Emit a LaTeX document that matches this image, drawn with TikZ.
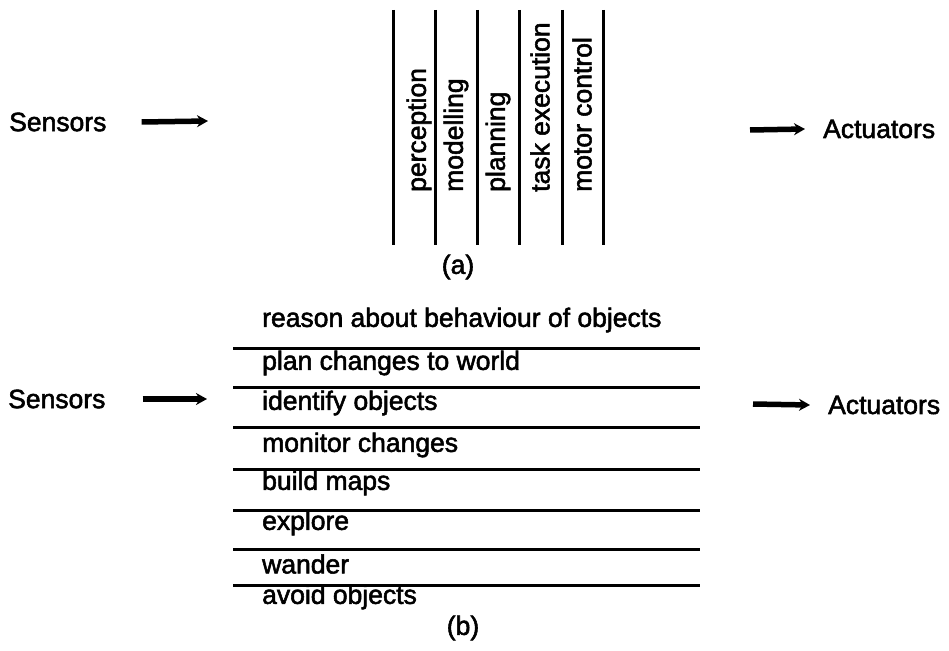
\documentclass[tikz,border=0pt]{standalone}
\usepackage{fontspec}
\setmainfont{Liberation Sans}[BoldFont=Liberation Sans,BoldFeatures={FakeBold=2}]
\usetikzlibrary{arrows.meta}

\begin{document}
\begin{tikzpicture}[x=1pt,y=-1pt,
    lbl/.style={inner sep=0pt,font=\fontsize{26.5}{30}\selectfont\bfseries},
    layer/.style={lbl,anchor=west},
    rule/.style={line width=3pt},
    io/.style={line width=5.5pt,-{Stealth[length=11pt,width=12pt]}}]
  \useasboundingbox (0,0) rectangle (949,650);
  % (a) functional slices
  \foreach \x in {393,435,477,519,562,603}
    \draw[rule] (\x,10) -- (\x,245);
  \foreach \x/\t [count=\i] in {419/perception,456/modelling,498/planning,540/task execution,582/motor control}
    \node[layer,rotate=90] (a\i) at (\x,192) {\t};
  \node[lbl] (capa) at (458,267) {(a)};
  \node[layer] (sensa) at (9,122) {Sensors};
  \node[layer] (acta) at (823,129) {Actuators};
  \coordinate (ina) at (208,121);
  \coordinate (outa) at (750,130);
  \draw[io] ([xshift=35pt]sensa.east) -- (ina);
  \draw[io] (outa) -- ([xshift=-18pt]acta.west);
  % (b) behaviour layers
  \foreach \y in {348,387,427,469,510,549,585}
    \draw[rule] (233,\y) -- (700,\y);
  \foreach \y/\t [count=\i] in {320/reason about behaviour of objects,363/plan changes to world,403/identify objects,445/monitor changes,483/build maps,523/explore,564/wander,597/avoid objects}
    \node[layer] (b\i) at (262,\y) {\t};
  \node[lbl] (capb) at (463,628) {(b)};
  \node[layer] (sensb) at (8,399) {Sensors};
  \node[layer] (actb) at (828,405) {Actuators};
  \coordinate (inb) at (207,399);
  \coordinate (outb) at (753,404);
  \draw[io] ([xshift=37pt]sensb.east) -- (inb);
  \draw[io] (outb) -- ([xshift=-18pt]actb.west);
\end{tikzpicture}
\end{document}
